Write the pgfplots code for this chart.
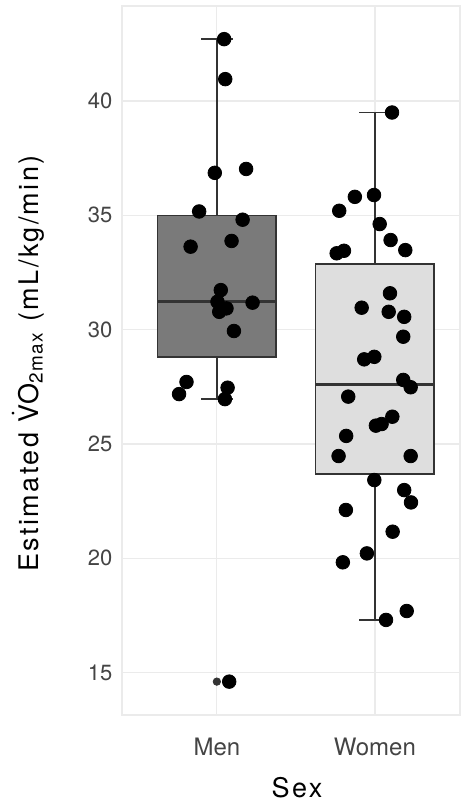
\documentclass[border=0pt]{standalone}
\usepackage{pgfplots}
\usepackage{pgfplotstable}
\pgfplotsset{compat=1.18}
\usepackage{fontspec}
\setmainfont{TeX Gyre Heros}
\newfontfamily\labelfont[LetterSpace=9]{TeX Gyre Heros}
\definecolor{gridcol}{HTML}{EBEBEB}
\definecolor{menfill}{HTML}{7A7A7A}
\definecolor{womenfill}{HTML}{DEDEDE}
\definecolor{boxline}{HTML}{333333}
\definecolor{ticktext}{HTML}{444444}

\pgfplotstableread{
x y
1.046 42.71
1.053 40.96
0.987 36.86
1.185 37.03
0.888 35.17
1.163 34.81
0.834 33.63
1.093 33.88
1.025 31.73
1.004 31.22
1.015 30.78
1.061 30.93
1.226 31.18
1.108 29.94
0.808 27.71
0.761 27.18
1.068 27.46
1.051 26.96
1.078 14.60
}\menpts

\pgfplotstableread{
x y
2.108 39.50
1.873 35.81
1.994 35.89
1.774 35.20
2.030 34.62
2.099 33.92
2.192 33.48
1.758 33.34
1.804 33.45
2.095 31.59
1.916 30.96
2.087 30.78
2.185 30.56
2.179 29.69
1.932 28.70
1.996 28.81
2.179 27.80
2.226 27.48
1.831 27.07
2.110 26.19
2.006 25.80
2.042 25.87
1.818 25.35
1.770 24.47
2.226 24.47
1.996 23.42
2.185 22.98
2.228 22.44
1.816 22.11
2.112 21.16
1.949 20.21
1.797 19.82
2.201 17.69
2.070 17.30
}\womenpts

\begin{document}
\begin{tikzpicture}
\begin{axis}[
  scale only axis,
  width=169pt, height=354.5pt,
  xmin=0.4, xmax=2.538, ymin=13.14, ymax=44.16,
  xtick={1,2}, xticklabels={Men,Women},
  ytick={15,20,25,30,35,40},
  xmajorgrids, ymajorgrids,
  grid style={gridcol, line width=0.6pt},
  axis line style={gridcol, line width=0.6pt},
  major tick length=0pt,
  tick label style={text=ticktext},
  /pgf/number format/assume math mode=true,
  yticklabel style={font=\fontsize{11}{13}\selectfont, xshift=-1.3pt},
  xticklabel style={font=\fontsize{12}{14}\selectfont, anchor=center, yshift=-16pt},
  xlabel={Sex},
  ylabel={Estimated $\dot{\mbox{V}}$O\textsubscript{2max} (mL/kg/min)},
  xlabel style={at={([xshift=3pt,yshift=-36.2pt]axis description cs:0.5,0)}, anchor=center, inner sep=0pt, font=\labelfont\fontsize{13.5}{15}\selectfont},
  ylabel style={at={([xshift=-47pt,yshift=-1.5pt]axis description cs:0,0.5)}, anchor=center, font=\labelfont\fontsize{13.5}{15}\selectfont},
]
% Men box
\addplot[draw=boxline, line width=0.75pt, fill=menfill] coordinates {(0.625,28.81) (1.375,28.81) (1.375,35.0) (0.625,35.0)} --cycle;
\addplot[boxline, line width=1.5pt] coordinates {(0.625,31.25) (1.375,31.25)};
\addplot[boxline, line width=0.75pt] coordinates {(1,35.0) (1,42.71)};
\addplot[boxline, line width=0.75pt] coordinates {(1,28.81) (1,26.96)};
\addplot[boxline, line width=0.75pt] coordinates {(0.9,42.71) (1.1,42.71)};
\addplot[boxline, line width=0.75pt] coordinates {(0.9,26.96) (1.1,26.96)};
% Women box
\addplot[draw=boxline, line width=0.75pt, fill=womenfill] coordinates {(1.625,23.68) (2.375,23.68) (2.375,32.87) (1.625,32.87)} --cycle;
\addplot[boxline, line width=1.5pt] coordinates {(1.625,27.62) (2.375,27.62)};
\addplot[boxline, line width=0.75pt] coordinates {(2,32.87) (2,39.49)};
\addplot[boxline, line width=0.75pt] coordinates {(2,23.68) (2,17.30)};
\addplot[boxline, line width=0.75pt] coordinates {(1.9,39.49) (2.1,39.49)};
\addplot[boxline, line width=0.75pt] coordinates {(1.9,17.30) (2.1,17.30)};
% outlier
\addplot[only marks, mark=*, mark size=1.85pt, boxline] coordinates {(1,14.60)};
% jittered points
\addplot[only marks, mark=*, mark size=3.4pt, black] table[x=x, y=y] {\menpts};
\addplot[only marks, mark=*, mark size=3.4pt, black] table[x=x, y=y] {\womenpts};
\end{axis}
\pgfresetboundingbox
\path[use as bounding box] ([xshift=-61pt,yshift=-43.5pt]current axis.south west) rectangle ([yshift=3pt]current axis.north east);
\end{tikzpicture}
\end{document}
